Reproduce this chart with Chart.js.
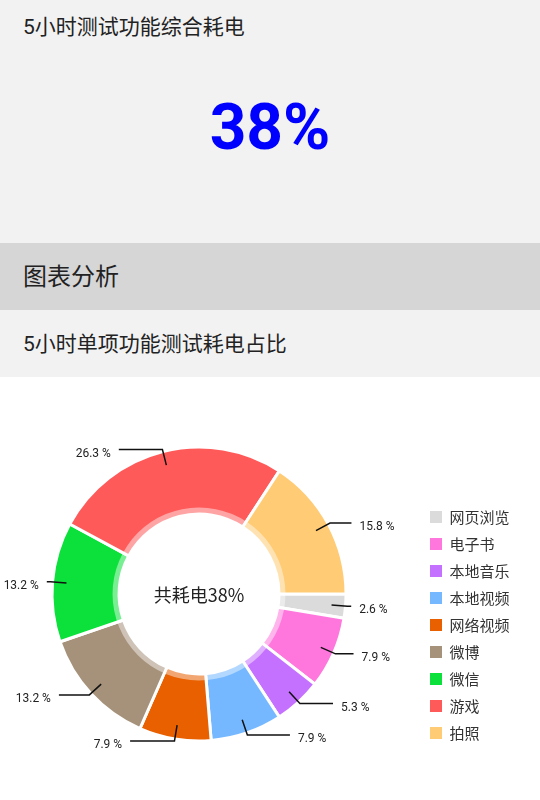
<!DOCTYPE html>
<html>
<head>
<meta charset="utf-8">
<script src="https://cdn.jsdelivr.net/npm/chart.js@4"></script>
<style>
    body { margin: 0; width: 540px; height: 800px; overflow: hidden; background: #fff;
           font-family: Roboto, "Noto Sans CJK SC", sans-serif; color: #222; }
    .top { position: relative; height: 243px; background: #f2f2f2; }
    .title { position: absolute; left: 23px; top: 12px; line-height: 30px; font-size: 21px; }
    .big { position: absolute; left: 0; width: 540px; top: 88px; line-height: 80px; text-align: center;
           font-size: 64px; font-weight: bold; color: #0000ff; }
    .band { position: relative; height: 67px; background: #d6d6d6; }
    .band span { position: absolute; left: 23px; top: 18px; line-height: 32px; font-size: 24px; }
    .sub { position: relative; height: 67px; background: #f2f2f2; }
    .sub span { position: absolute; left: 23px; top: 19px; line-height: 30px; font-size: 21px; }
    .chart { position: relative; height: 423px; }
    #pie { position: absolute; left: -20px; top: 0; }
</style>
</head>
<body>
<div class="top">
    <div class="title">5小时测试功能综合耗电</div>
    <div class="big">38%</div>
</div>
<div class="band"><span>图表分析</span></div>
<div class="sub"><span>5小时单项功能测试耗电占比</span></div>
<div class="chart"><canvas id="pie" width="560" height="423"></canvas></div>

<script>
const labels = ['网页浏览', '电子书', '本地音乐', '本地视频', '网络视频', '微博', '微信', '游戏', '拍照'];
const counts = [1, 3, 2, 3, 3, 5, 5, 10, 6];
const colors = ['#dbdbdb', '#ff77dd', '#c571ff', '#75b8ff', '#e86000', '#a6927a', '#0ce03a', '#ff5a5a', '#ffcb74'];
const centerText = '共耗电38%';

// polyline labels outside the ring, horizontal part scales with |sin|
const sliceLabels = {
    id: 'sliceLabels',
    afterDatasetsDraw(chart) {
        const ctx = chart.ctx;
        const meta = chart.getDatasetMeta(0);
        const data = chart.data.datasets[0].data;
        const total = data.reduce((a, b) => a + b, 0);
        ctx.save();

        // translucent ring on the inner edge
        const a0 = meta.data[0];
        ctx.beginPath();
        ctx.arc(a0.x, a0.y, a0.innerRadius + 6.5, 0, Math.PI * 2);
        ctx.arc(a0.x, a0.y, a0.innerRadius, 0, Math.PI * 2, true);
        ctx.fillStyle = 'rgba(255,255,255,0.45)';
        ctx.fill();

        ctx.strokeStyle = '#111';
        ctx.lineWidth = 1.5;
        ctx.fillStyle = '#222';
        ctx.font = '12px Roboto';
        ctx.textBaseline = 'middle';
        meta.data.forEach((arc, i) => {
            const mid = (arc.startAngle + arc.endAngle) / 2;
            const c = Math.cos(mid), s = Math.sin(mid);
            const r1 = arc.outerRadius - 14, r2 = arc.outerRadius + 2;
            const x1 = arc.x + c * r1, y1 = arc.y + s * r1;
            const x2 = arc.x + c * r2, y2 = arc.y + s * r2;
            const dir = c >= 0 ? 1 : -1;
            const x3 = x2 + dir * 45 * Math.abs(s);
            ctx.beginPath();
            ctx.moveTo(x1, y1);
            ctx.lineTo(x2, y2);
            ctx.lineTo(x3, y2);
            ctx.stroke();
            ctx.textAlign = dir > 0 ? 'left' : 'right';
            ctx.fillText((data[i] / total * 100).toFixed(1) + ' %', x3 + dir * 8, y2 + 4);
        });

        ctx.font = '18px "Noto Sans CJK SC", Roboto';
        ctx.textAlign = 'center';
        ctx.fillStyle = '#222';
        ctx.fillText(centerText, a0.x, a0.y + 1);
        ctx.restore();
    }
};

new Chart(document.getElementById('pie'), {
    type: 'doughnut',
    data: {
        labels: labels,
        datasets: [{
            data: counts,
            backgroundColor: colors,
            borderColor: '#ffffff',
            borderWidth: 3
        }]
    },
    options: {
        responsive: false,
        animation: false,
        rotation: 90,
        radius: 147,
        cutout: '54.4%',
        layout: { padding: { top: 58.5, bottom: 47.5, left: 0, right: 20.5 } },
        plugins: {
            tooltip: { enabled: false },
            legend: {
                position: 'right',
                align: 'end',
                labels: {
                    boxWidth: 12,
                    boxHeight: 12,
                    padding: 12,
                    color: '#333',
                    font: { size: 15, family: '"Noto Sans CJK SC", Roboto' },
                    generateLabels: chart => Chart.overrides.doughnut.plugins.legend.labels
                        .generateLabels(chart).map(l => Object.assign(l, { lineWidth: 0 }))
                }
            }
        }
    },
    plugins: [sliceLabels]
});
</script>
</body>
</html>
